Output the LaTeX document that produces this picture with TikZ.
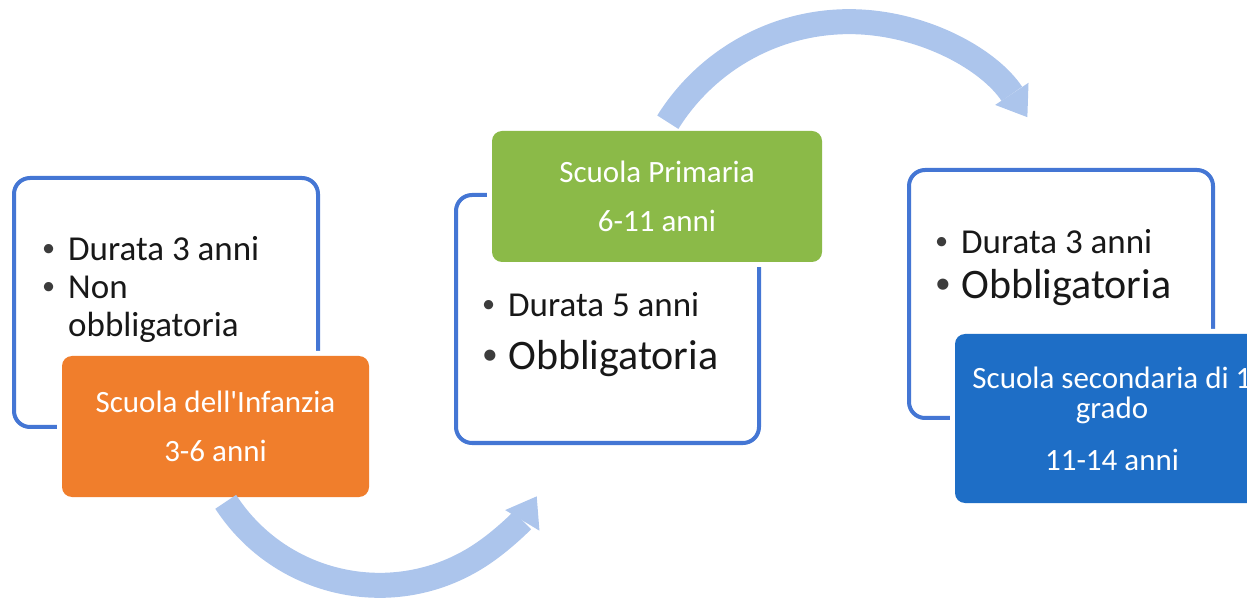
\documentclass[tikz,border=0pt]{standalone}
\usepackage{fontspec}
\usepackage{graphicx}
\setmainfont{Carlito}
\usetikzlibrary{arrows.meta}
\definecolor{frameblue}{RGB}{68,118,212}
\definecolor{arrowblue}{RGB}{172,197,236}
\definecolor{infanzia}{RGB}{240,126,44}
\definecolor{primaria}{RGB}{139,186,72}
\definecolor{secondaria}{RGB}{30,110,198}
\definecolor{ink}{RGB}{24,24,24}
\definecolor{dot}{RGB}{60,60,60}
\newcommand{\sizeA}{\fontsize{35}{38}\selectfont}
\newcommand{\sizeB}{\fontsize{42}{46}\selectfont}
\newcommand{\sizeC}{\fontsize{31}{30}\selectfont}
\newcommand{\bul}{\makebox[26pt][l]{\raisebox{0.12em}{\scalebox{0.75}{\textcolor{dot}{\textbullet}}}}}
\tikzset{
  frame/.style={draw=frameblue, line width=4pt, rounded corners=16pt, fill=white, inner sep=0pt},
  stage/.style={rounded corners=10pt, text=white, align=center, inner sep=0pt, font=\sizeC,
    preaction={draw=white, line width=10pt}},
  item/.style={anchor=base west, inner sep=0pt, text=ink},
  flow/.style={draw=arrowblue, line width=25pt, -{Triangle[width=40pt,length=28pt,line width=0pt]}}
}
\begin{document}
\begin{tikzpicture}[x=1pt,y=1pt]
\useasboundingbox (0,0) rectangle (1247,600);
% scuola dell'infanzia
\node[frame, minimum width=304pt, minimum height=249pt] (infbox) at (166,297.5) {};
\node[item, font=\sizeA] (inf1) at (42,339) {\bul Durata 3 anni};
\node[item, font=\sizeA] (inf2) at (42,301) {\bul Non};
\node[item, font=\sizeA] (inf3) at (68,263) {obbligatoria};
\node[stage, fill=infanzia, minimum width=307pt, minimum height=141pt] (infanzia) at (215.5,173.5)
  {Scuola dell\textquotesingle Infanzia\\[19pt]3-6 anni};
% scuola primaria
\node[frame, minimum width=303pt, minimum height=248pt] (primbox) at (607.5,281) {};
\node[item, font=\sizeA] (prim1) at (482,283) {\bul Durata 5 anni};
\node[item, font=\sizeB] (prim2) at (482,230) {\bul Obbligatoria};
\node[stage, fill=primaria, minimum width=330pt, minimum height=131pt] (primaria) at (657,403.5)
  {Scuola Primaria\\[19pt]6-11 anni};
% scuola secondaria
\node[frame, minimum width=304pt, minimum height=248pt] (secbox) at (1061,306) {};
\node[item, font=\sizeA] (sec1) at (935,346) {\bul Durata 3 anni};
\node[item, font=\sizeB] (sec2) at (935,301) {\bul Obbligatoria};
\node[stage, fill=secondaria, minimum width=314pt, minimum height=169pt] (secondaria) at (1112,181.5)
  {Scuola secondaria di 1\\grado\\[22pt]11-14 anni};
% frecce
\draw[flow] ([shift={(10.2,-4.6)}]infanzia.south) arc[start angle=213, end angle=329, radius=183.4pt];
\draw[flow] ([shift={(10.8,8.6)}]primaria.north) arc[start angle=148, end angle=33.6, radius=213.9pt];
\end{tikzpicture}
\end{document}
